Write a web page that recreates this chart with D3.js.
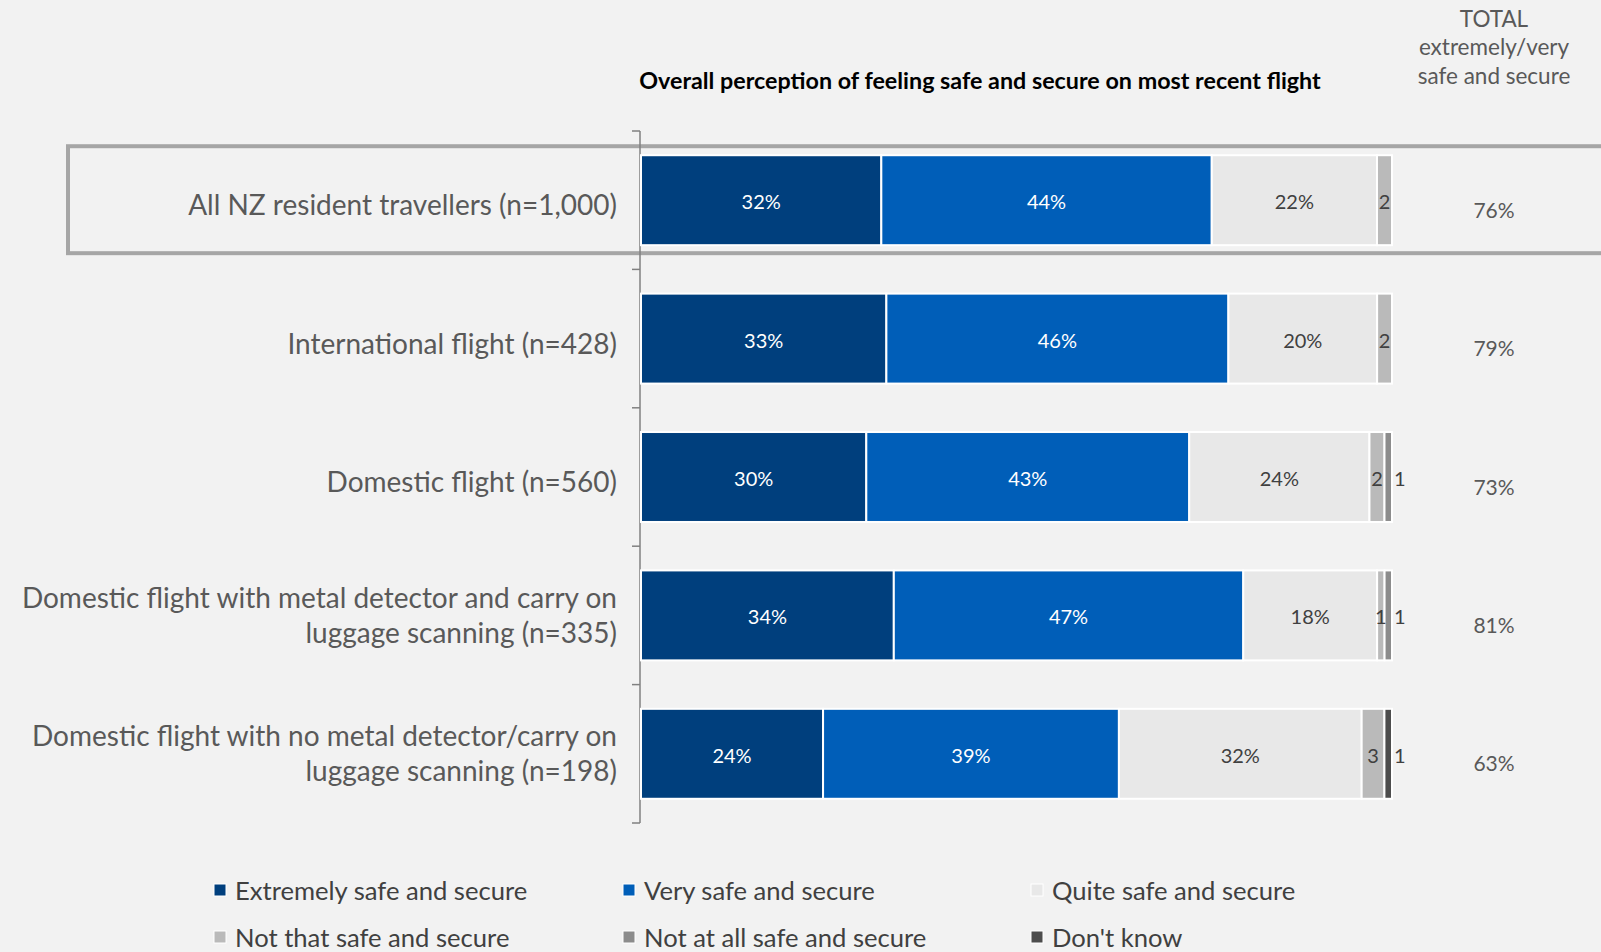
<!DOCTYPE html>
<html><head><meta charset="utf-8">
<script src="https://cdn.jsdelivr.net/npm/d3@7"></script>
<style>
body{margin:0;background:#F2F2F2;}
text{font-family:Lato, "Open Sans", sans-serif;}
</style></head>
<body><svg id="c" width="1601" height="952"></svg>
<script>
const categories = [
  "All NZ resident travellers (n=1,000)",
  "International flight (n=428)",
  "Domestic flight (n=560)",
  "Domestic flight with metal detector and carry on\nluggage scanning (n=335)",
  "Domestic flight with no metal detector/carry on\nluggage scanning (n=198)"
];
const series = ["Extremely safe and secure","Very safe and secure","Quite safe and secure",
  "Not that safe and secure","Not at all safe and secure","Don't know"];
const extremely = [32,33,30,34,24];
const very      = [44,46,43,47,39];
const quite     = [22,20,24,18,32];
const notThat   = [2,2,2,1,3];
const notAtAll  = [0,0,1,1,0];
const dontKnow  = [0,0,0,0,1];
const totals    = [76,79,73,81,63];
const title = "Overall perception of feeling safe and secure on most recent flight";
const totalHeader = ["TOTAL","extremely/very","safe and secure"];

const colors = ["#003F7D","#005EB8","#E8E8E8","#BABABA","#8C8C8C","#4D4D4D"];
const labelColors = ["#FFFFFF","#FFFFFF","#404040","#404040","#404040","#404040"];

const cols = [extremely, very, quite, notThat, notAtAll, dontKnow];
const table = categories.map((c,i)=>{const r={cat:c}; series.forEach((s,j)=>r[s]=cols[j][i]); return r;});

const svg = d3.select("#c");
svg.append("rect").attr("width",1601).attr("height",952).attr("fill","#F2F2F2");

const y = d3.scaleBand().domain(categories).range([131,823]).paddingInner(0.35).paddingOuter(0.175);
const x = d3.scaleLinear().domain([0,1]).range([641,1392]);

const stack = d3.stack().keys(series).offset(d3.stackOffsetExpand)(table);

// highlight box
svg.append("rect").attr("x",68).attr("y",y(categories[0])-9)
  .attr("width",1600).attr("height",y.bandwidth()+17)
  .attr("fill","none").attr("stroke","#A6A6A6").attr("stroke-width",4);

// axis
const axis = svg.append("g").attr("transform","translate(640,0)")
  .call(d3.axisLeft(y).tickSize(0).tickFormat(""));
axis.select(".domain").attr("stroke","#808080").attr("stroke-width",1.5)
  .attr("d",`M0,131V823`);
const bounds = d3.range(categories.length+1).map(i=>131+i*(692/categories.length));
axis.selectAll(".bt").data(bounds).join("line").attr("class","bt")
  .attr("x1",-8).attr("x2",0).attr("y1",d=>d).attr("y2",d=>d)
  .attr("stroke","#808080").attr("stroke-width",1.5);

// bars
const g = svg.append("g");
stack.forEach((layer,j)=>{
  g.selectAll(null).data(layer).join("rect")
    .attr("x",d=>x(d[0])).attr("y",d=>y(d.data.cat))
    .attr("width",d=>Math.max(0,x(d[1])-x(d[0]))).attr("height",y.bandwidth())
    .attr("fill",colors[j]).attr("stroke","#FFFFFF").attr("stroke-width",2)
    .style("display",d=>d.data[series[j]]>0?null:"none");
});
// labels
stack.forEach((layer,j)=>{
  g.selectAll(null).data(layer.filter(d=>d.data[series[j]]>0)).join("text")
    .attr("x",d=> j<=3 ? (x(d[0])+x(d[1]))/2 : x(1)+2)
    .attr("y",d=>y(d.data.cat)+y.bandwidth()/2+1)
    .attr("text-anchor", j<=3 ? "middle":"start")
    .attr("dominant-baseline","central")
    .attr("font-size",20).attr("fill",labelColors[j])
    .text(d=>{const v=d.data[series[j]]; return j<=2? v+"%" : v;});
});

// category labels
categories.forEach((c,k)=>{
  const lines=c.split("\n");
  const cy=y(c)+y.bandwidth()/2 + (lines.length===1?4:-1);
  const lh=35;
  const t=svg.append("text").attr("text-anchor","end").attr("font-size",28).attr("fill","#595959");
  lines.forEach((l,i)=>{
    t.append("tspan").attr("x",617).attr("y",cy+(i-(lines.length-1)/2)*lh)
      .attr("dominant-baseline","central").text(l);
  });
});

// totals
categories.forEach((c,i)=>{
  svg.append("text").attr("x",1494).attr("y",y(c)+y.bandwidth()/2+9)
    .attr("text-anchor","middle").attr("dominant-baseline","central")
    .attr("font-size",21).attr("fill","#595959").text(totals[i]+"%");
});
totalHeader.forEach((l,i)=>{
  svg.append("text").attr("x",1494).attr("y",18+i*28.5).attr("text-anchor","middle")
    .attr("dominant-baseline","central").attr("font-size",22.5).attr("fill","#595959").text(l);
});

// title
svg.append("text").attr("x",980).attr("y",80).attr("text-anchor","middle")
  .attr("dominant-baseline","central").attr("font-size",23.3).attr("font-weight","bold")
  .attr("fill","#000000").text(title);

// legend
const lx=[214,623,1031], ly=[890,937];
series.forEach((s,i)=>{
  const cx=lx[i%3], cy=ly[Math.floor(i/3)];
  svg.append("rect").attr("x",cx).attr("y",cy-6).attr("width",12).attr("height",12)
    .attr("fill",colors[i]).attr("stroke","#FFFFFF").attr("stroke-width",1);
  svg.append("text").attr("x",cx+21).attr("y",cy).attr("dominant-baseline","central")
    .attr("font-size",25.6).attr("fill","#404040").text(s);
});
</script></body></html>
